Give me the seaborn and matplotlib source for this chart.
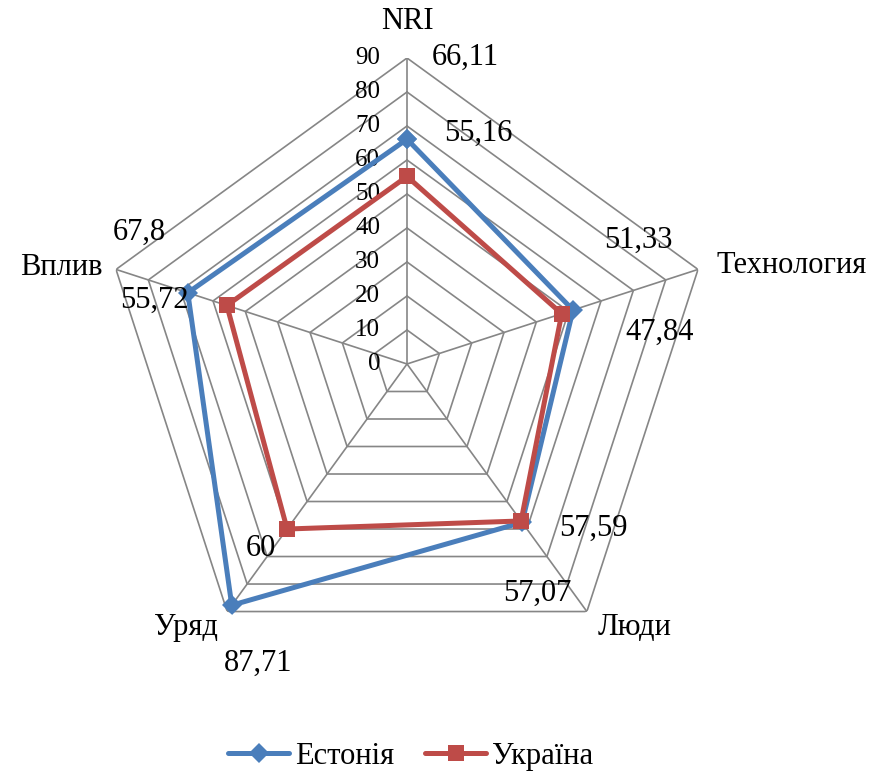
import numpy as np
import pandas as pd
import matplotlib
matplotlib.use("Agg")
import matplotlib.pyplot as plt
import seaborn as sns
from matplotlib.lines import Line2D

# ========== Data ==========
categories = ["NRI", "Технология", "Люди", "Уряд", "Вплив"]
estonia = [66.11, 51.33, 57.59, 87.71, 67.8]
ukraine = [55.16, 47.84, 57.07, 60, 55.72]
label_estonia = ["66,11", "51,33", "57,59", "87,71", "67,8"]
label_ukraine = ["55,16", "47,84", "57,07", "60", "55,72"]
rings = [0, 10, 20, 30, 40, 50, 60, 70, 80, 90]

# label offsets (pixels)
off_estonia = [(58, 82), (65, 70), (71, -6), (26, -58), (-48, 60)]
off_ukraine = [(71, 43), (98, -19), (16, -72), (-26, -19), (-72, 5)]
cat_off = [((0, 36), "center"), ((18, 4), "left"), ((11, -16), "left"),
           ((-9, -16), "right"), ((-13, 2), "right")]

BLUE = "#4A7EBB"
RED = "#BE4B48"
GRID = "#868686"

sns.set_theme(style="white")
plt.rcParams["font.family"] = ["Liberation Serif", "DejaVu Serif"]
plt.rcParams["text.color"] = "black"

n = len(categories)
angles = np.linspace(0, 2 * np.pi, n, endpoint=False)
closed = np.append(angles, 2 * np.pi)

df = pd.DataFrame({
    "theta": np.concatenate([closed, closed]),
    "value": estonia + estonia[:1] + ukraine + ukraine[:1],
    "country": ["Естонія"] * (n + 1) + ["Україна"] * (n + 1),
})

fig = plt.figure(figsize=(8.74, 7.76), dpi=100)
ax = fig.add_axes([0.1156, 0.1366, 0.7002, 0.7887], projection="polar")
ax.set_theta_offset(np.pi / 2)
ax.set_theta_direction(-1)
ax.set_ylim(0, 90)
ax.grid(False)
ax.spines["polar"].set_visible(False)
ax.set_xticks([])
ax.set_yticks([])

# pentagon rings and spokes
for v in rings[1:]:
    ax.plot(closed, [v] * (n + 1), color=GRID, lw=1.2, zorder=1)
for a in angles:
    ax.plot([a, a], [0, 90], color=GRID, lw=1.2, zorder=1)

# ring values
for v in rings:
    ax.annotate(str(v), xy=(0, v), xytext=(-27, 0), textcoords="offset pixels",
                ha="right", va="center", fontsize=18, color="black")

# series
sns.lineplot(data=df[df.country == "Естонія"], x="theta", y="value", ax=ax,
             color=BLUE, lw=3.6, marker="D", markersize=10, markeredgewidth=0,
             sort=False, estimator=None, legend=False, zorder=3)
sns.lineplot(data=df[df.country == "Україна"], x="theta", y="value", ax=ax,
             color=RED, lw=3.6, marker="s", markersize=11, markeredgewidth=0,
             sort=False, estimator=None, legend=False, zorder=4)
ax.set_xlabel("")
ax.set_ylabel("")

# data labels
for a, v, t, o in zip(angles, estonia, label_estonia, off_estonia):
    ax.annotate(t, xy=(a, v), xytext=o, textcoords="offset pixels",
                ha="center", va="center", fontsize=22, color="black")
for a, v, t, o in zip(angles, ukraine, label_ukraine, off_ukraine):
    ax.annotate(t, xy=(a, v), xytext=o, textcoords="offset pixels",
                ha="center", va="center", fontsize=22, color="black")

# category labels
for a, c, (o, ha) in zip(angles, categories, cat_off):
    ax.annotate(c, xy=(a, 90), xytext=o, textcoords="offset pixels",
                ha=ha, va="center", fontsize=22, color="black")

handles = [
    Line2D([], [], color=BLUE, lw=3.6, marker="D", markersize=10, markeredgewidth=0),
    Line2D([], [], color=RED, lw=3.6, marker="s", markersize=11, markeredgewidth=0),
]
fig.legend(handles, ["Естонія", "Україна"], loc="center", bbox_to_anchor=(0.47, 0.025),
           ncol=2, frameon=False, fontsize=22, handlelength=2.0, handletextpad=0.2,
           columnspacing=1.0, labelcolor="black")

fig.savefig("out.png", dpi=100)
plt.close(fig)
